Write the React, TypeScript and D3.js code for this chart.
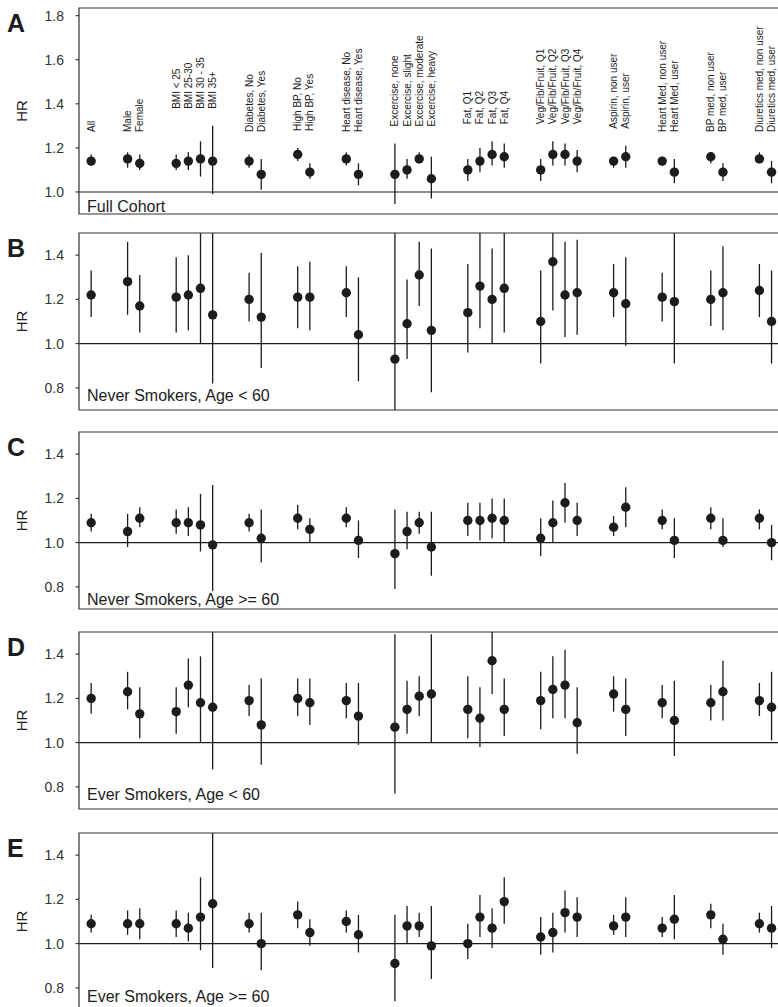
import React from 'react';
import * as d3 from 'd3';

// subgroup labels, in plotting order
const categories = [
  'All',
  'Male', 'Female',
  'BMI < 25', 'BMI 25-30', 'BMI 30 - 35', 'BMI 35+',
  'Diabetes, No', 'Diabetes, Yes',
  'High BP, No', 'High BP, Yes',
  'Heart disease, No', 'Heart disease, Yes',
  'Excercise, none', 'Excercise, slight', 'Excercise, moderate', 'Excercise, heavy',
  'Fat, Q1', 'Fat, Q2', 'Fat, Q3', 'Fat, Q4',
  'Veg/Fib/Fruit, Q1', 'Veg/Fib/Fruit, Q2', 'Veg/Fib/Fruit, Q3', 'Veg/Fib/Fruit, Q4',
  'Aspirin, non user', 'Aspirin, user',
  'Heart Med, non user', 'Heart Med, user',
  'BP med, non user', 'BP med, user',
  'Diuretics med, non user', 'Diuretics med, user'
];
// how many categories in each block
const groupSizes = [1, 2, 4, 2, 2, 2, 4, 4, 4, 2, 2, 2, 2];

const panelLetters = ['A', 'B', 'C', 'D', 'E'];
const panelTitles = [
  'Full Cohort',
  'Never Smokers, Age < 60',
  'Never Smokers, Age >= 60',
  'Ever Smokers, Age < 60',
  'Ever Smokers, Age >= 60'
];
const ticksA = [1.0, 1.2, 1.4, 1.6, 1.8];
const ticksOther = [0.8, 1.0, 1.2, 1.4];

// A: full cohort
const hrA = [1.14, 1.15, 1.13, 1.13, 1.14, 1.15, 1.14, 1.14, 1.08, 1.17, 1.09, 1.15, 1.08, 1.08, 1.10, 1.15, 1.06, 1.10, 1.14, 1.17, 1.16, 1.10, 1.17, 1.17, 1.14, 1.14, 1.16, 1.14, 1.09, 1.16, 1.09, 1.15, 1.09];
const loA = [1.12, 1.11, 1.10, 1.10, 1.10, 1.07, 0.99, 1.11, 1.01, 1.14, 1.06, 1.12, 1.03, 0.945, 1.06, 1.13, 0.97, 1.05, 1.09, 1.12, 1.11, 1.05, 1.12, 1.12, 1.09, 1.11, 1.11, 1.12, 1.04, 1.13, 1.05, 1.13, 1.04];
const hiA = [1.17, 1.18, 1.17, 1.17, 1.18, 1.23, 1.30, 1.17, 1.15, 1.20, 1.13, 1.18, 1.13, 1.22, 1.15, 1.18, 1.16, 1.15, 1.20, 1.23, 1.22, 1.15, 1.23, 1.22, 1.19, 1.16, 1.21, 1.16, 1.15, 1.18, 1.13, 1.18, 1.14];

// B: never smokers, age < 60
const hrB = [1.22, 1.28, 1.17, 1.21, 1.22, 1.25, 1.13, 1.20, 1.12, 1.21, 1.21, 1.23, 1.04, 0.93, 1.09, 1.31, 1.06, 1.14, 1.26, 1.20, 1.25, 1.10, 1.37, 1.22, 1.23, 1.23, 1.18, 1.21, 1.19, 1.20, 1.23, 1.24, 1.10];
const loB = [1.12, 1.13, 1.05, 1.05, 1.06, 1.00, 0.82, 1.10, 0.89, 1.07, 1.06, 1.12, 0.83, 0.65, 0.93, 1.17, 0.78, 0.96, 1.07, 1.00, 1.05, 0.91, 1.15, 1.03, 1.04, 1.12, 0.99, 1.10, 0.91, 1.08, 1.06, 1.12, 0.91];
const hiB = [1.33, 1.46, 1.31, 1.39, 1.40, 1.60, 1.65, 1.32, 1.41, 1.35, 1.37, 1.35, 1.30, 1.60, 1.29, 1.46, 1.43, 1.36, 1.55, 1.43, 1.55, 1.33, 1.55, 1.46, 1.47, 1.36, 1.39, 1.32, 1.55, 1.33, 1.44, 1.36, 1.33];

// C: never smokers, age >= 60
const hrC = [1.09, 1.05, 1.11, 1.09, 1.09, 1.08, 0.99, 1.09, 1.02, 1.11, 1.06, 1.11, 1.01, 0.95, 1.05, 1.09, 0.98, 1.10, 1.10, 1.11, 1.10, 1.02, 1.09, 1.18, 1.10, 1.07, 1.16, 1.10, 1.01, 1.11, 1.01, 1.11, 1.00];
const loC = [1.05, 0.98, 1.07, 1.04, 1.03, 0.96, 0.78, 1.05, 0.91, 1.06, 1.00, 1.07, 0.93, 0.79, 0.97, 1.04, 0.85, 1.03, 1.01, 1.02, 1.00, 0.94, 1.00, 1.09, 1.03, 1.03, 1.07, 1.06, 0.93, 1.06, 0.98, 1.06, 0.92];
const hiC = [1.13, 1.13, 1.16, 1.15, 1.16, 1.22, 1.26, 1.13, 1.15, 1.17, 1.11, 1.16, 1.10, 1.15, 1.14, 1.14, 1.14, 1.18, 1.18, 1.20, 1.20, 1.11, 1.19, 1.27, 1.18, 1.12, 1.25, 1.15, 1.11, 1.16, 1.11, 1.15, 1.08];

// D: ever smokers, age < 60
const hrD = [1.20, 1.23, 1.13, 1.14, 1.26, 1.18, 1.16, 1.19, 1.08, 1.20, 1.18, 1.19, 1.12, 1.07, 1.15, 1.21, 1.22, 1.15, 1.11, 1.37, 1.15, 1.19, 1.24, 1.26, 1.09, 1.22, 1.15, 1.18, 1.10, 1.18, 1.23, 1.19, 1.16];
const loD = [1.13, 1.15, 1.02, 1.04, 1.16, 1.00, 0.88, 1.12, 0.90, 1.12, 1.08, 1.11, 0.99, 0.77, 1.04, 1.12, 1.00, 1.02, 0.98, 1.22, 1.03, 1.06, 1.11, 1.11, 0.95, 1.14, 1.03, 1.11, 0.94, 1.10, 1.10, 1.12, 1.01];
const hiD = [1.27, 1.32, 1.25, 1.25, 1.38, 1.39, 1.60, 1.26, 1.29, 1.29, 1.29, 1.27, 1.27, 1.49, 1.28, 1.30, 1.49, 1.30, 1.25, 1.55, 1.29, 1.32, 1.39, 1.42, 1.25, 1.30, 1.29, 1.26, 1.28, 1.26, 1.37, 1.27, 1.32];

// E: ever smokers, age >= 60
const hrE = [1.09, 1.09, 1.09, 1.09, 1.07, 1.12, 1.18, 1.09, 1.00, 1.13, 1.05, 1.10, 1.04, 0.91, 1.08, 1.08, 0.99, 1.00, 1.12, 1.07, 1.19, 1.03, 1.05, 1.14, 1.12, 1.08, 1.12, 1.07, 1.11, 1.13, 1.02, 1.09, 1.07];
const loE = [1.05, 1.04, 1.02, 1.03, 1.01, 0.97, 0.89, 1.05, 0.88, 1.07, 0.99, 1.05, 0.96, 0.74, 1.00, 1.03, 0.84, 0.93, 1.03, 0.98, 1.09, 0.95, 0.96, 1.05, 1.03, 1.04, 1.03, 1.03, 1.02, 1.07, 0.95, 1.05, 0.98];
const hiE = [1.13, 1.15, 1.16, 1.15, 1.14, 1.30, 1.55, 1.14, 1.14, 1.19, 1.11, 1.15, 1.13, 1.13, 1.17, 1.14, 1.17, 1.09, 1.22, 1.16, 1.30, 1.12, 1.14, 1.24, 1.21, 1.13, 1.21, 1.12, 1.22, 1.18, 1.09, 1.14, 1.17];

const series = [
  { hr: hrA, lo: loA, hi: hiA },
  { hr: hrB, lo: loB, hi: hiB },
  { hr: hrC, lo: loC, hi: hiC },
  { hr: hrD, lo: loD, hi: hiD },
  { hr: hrE, lo: loE, hi: hiE }
];

const W = 778;
const H = 1007;
const FONT = 'Liberation Sans, Arial, Helvetica, sans-serif';
const INK = '#1c1c1c';

// slot index of each category: blocks separated by two empty slots
const slots: number[] = [];
const groupOf: number[] = [];
let cursor = 0;
groupSizes.forEach((n, g) => {
  for (let k = 0; k < n; k++) {
    slots.push(cursor + k);
    groupOf.push(g);
  }
  cursor += n + 2;
});

const x = d3.scaleLinear().domain([-1, 57]).range([79, 79 + 58 * 12.15]);
// the figure is cropped on the right: frame is open on that side
const frameRight = W + 2;

const panelTop = [8, 233, 432, 632, 833];
const panelHeight = [206, 177, 177, 177, 177];
const panelDomain = [[0.9, 1.835], [0.7, 1.5], [0.7, 1.5], [0.7, 1.5], [0.7, 1.5]];
const titlePad = [2.5, 9, 4.5, 9, 8];

function Panel({ p }: { p: number }) {
  const top = panelTop[p];
  const h = panelHeight[p];
  const y = d3.scaleLinear().domain(panelDomain[p]).range([top + h, top]);
  const s = series[p];
  const ticks = p === 0 ? ticksA : ticksOther;
  const left = x.range()[0];
  const clipId = `clip-${p}`;

  const frame = d3.path();
  frame.moveTo(frameRight, top);
  frame.lineTo(left, top);
  frame.lineTo(left, top + h);
  frame.lineTo(frameRight, top + h);

  // category labels only on the first panel, one column per block
  let labels: React.ReactNode = null;
  if (p === 0) {
    const groupMax = d3.rollup(
      categories.map((_, i) => i),
      (v) => d3.max(v, (i) => s.hi[i]) as number,
      (i) => groupOf[i]
    );
    labels = categories.map((c, i) => {
      const base = Math.min(y(groupMax.get(groupOf[i]) as number) - 17, 132);
      return (
        <text
          key={c}
          transform={`translate(${x(slots[i])},${base}) rotate(-90)`}
          dy="0.35em"
          fontSize={10}
          fill={INK}
        >
          {c}
        </text>
      );
    });
  }

  return (
    <g fontFamily={FONT}>
      <defs>
        <clipPath id={clipId}>
          <rect x={left} y={top} width={frameRight - left} height={h} />
        </clipPath>
      </defs>
      <text x={7} y={top + 24} fontSize={25} fontWeight="bold" fill={INK}>
        {panelLetters[p]}
      </text>
      <text
        transform={`translate(27,${top + h / 2}) rotate(-90)`}
        textAnchor="middle"
        fontSize={15}
        fill={INK}
      >
        HR
      </text>
      {ticks.map((t) => (
        <g key={t}>
          <line x1={left - 3.5} x2={left} y1={y(t)} y2={y(t)} stroke={INK} strokeWidth={1} />
          <text x={left - 15} y={y(t)} dy="0.35em" textAnchor="end" fontSize={14} fill="#333">
            {t.toFixed(1)}
          </text>
        </g>
      ))}
      <line x1={left} x2={frameRight} y1={y(1)} y2={y(1)} stroke={INK} strokeWidth={1.1} />
      <g clipPath={`url(#${clipId})`}>
        {categories.map((c, i) => (
          <g key={c}>
            <line
              x1={x(slots[i])}
              x2={x(slots[i])}
              y1={y(s.lo[i])}
              y2={y(s.hi[i])}
              stroke={INK}
              strokeWidth={1.3}
            />
            <circle cx={x(slots[i])} cy={y(s.hr[i])} r={4.7} fill={INK} />
          </g>
        ))}
      </g>
      <path d={frame.toString()} fill="none" stroke="#333" strokeWidth={1.2} />
      <text x={87} y={top + h - titlePad[p]} fontSize={16} fill={INK}>
        {panelTitles[p]}
      </text>
      {labels}
    </g>
  );
}

export default function App() {
  return (
    <svg
      width={W}
      height={H}
      viewBox={`0 0 ${W} ${H}`}
      style={{ position: 'absolute', left: 0, top: 0, background: '#fff' }}
    >
      <rect width={W} height={H} fill="#fff" />
      {panelLetters.map((_, p) => (
        <Panel key={p} p={p} />
      ))}
    </svg>
  );
}
